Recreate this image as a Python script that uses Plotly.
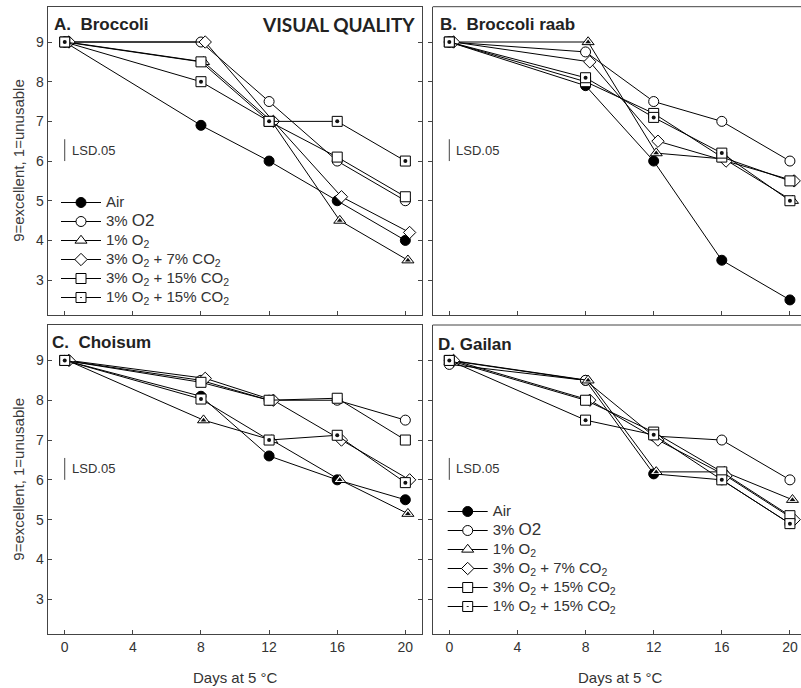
import plotly.graph_objects as go

# ---------------- data ----------------
days = [0, 8, 12, 16, 20]

LEG_SPAN = "<span style='font-size:15px'>{}</span>"
series_names = [
    LEG_SPAN.format("Air"),
    LEG_SPAN.format("3% <span style='font-size:17px'>O2</span>"),
    LEG_SPAN.format("1% O<sub>2</sub>"),
    LEG_SPAN.format("3% O<sub>2</sub> + 7% CO<sub>2</sub>"),
    LEG_SPAN.format("3% O<sub>2</sub> + 15% CO<sub>2</sub>"),
    LEG_SPAN.format("1% O<sub>2</sub> + 15% CO<sub>2</sub>"),
]

# A. Broccoli
broccoli_air = [9.0, 6.9, 6.0, 5.0, 4.0]
broccoli_o3 = [9.0, 9.0, 7.5, 6.0, 5.0]
broccoli_o1 = [9.0, 8.5, 7.0, 4.5, 3.5]
broccoli_o3c7 = [9.0, 9.0, 7.0, 5.1, 4.2]
broccoli_o3c15 = [9.0, 8.5, 7.0, 6.1, 5.1]
broccoli_o1c15 = [9.0, 8.0, 7.0, 7.0, 6.0]

# B. Broccoli raab
raab_air = [9.0, 7.9, 6.0, 3.5, 2.5]
raab_o3 = [9.0, 8.75, 7.5, 7.0, 6.0]
raab_o1 = [9.0, 9.0, 6.2, 6.05, 5.0]
raab_o3c7 = [9.0, 8.5, 6.5, 6.0, 5.5]
raab_o3c15 = [9.0, 8.0, 7.2, 6.1, 5.5]
raab_o1c15 = [9.0, 8.1, 7.1, 6.2, 5.0]

# C. Choisum
choisum_air = [9.0, 8.1, 6.6, 6.0, 5.5]
choisum_o3 = [9.0, 8.5, 8.0, 8.0, 7.5]
choisum_o1 = [9.0, 7.5, 7.0, 6.0, 5.15]
choisum_o3c7 = [9.0, 8.55, 8.0, 7.0, 6.0]
choisum_o3c15 = [9.0, 8.45, 8.0, 8.05, 7.0]
choisum_o1c15 = [9.0, 8.03, 7.0, 7.12, 5.93]

# D. Gailan
gailan_air = [9.0, 8.5, 6.15, 6.0, 4.9]
gailan_o3 = [8.9, 8.5, 7.1, 7.0, 6.0]
gailan_o1 = [9.0, 8.5, 6.2, 6.2, 5.5]
gailan_o3c7 = [9.0, 8.0, 7.0, 6.1, 5.0]
gailan_o3c15 = [9.0, 8.0, 7.2, 6.2, 5.1]
gailan_o1c15 = [9.0, 7.5, 7.13, 6.0, 4.9]

# small horizontal offsets of some series (as plotted in the original)
x_offsets = [0.0, 0.0, 0.15, 0.25, 0.0, 0.0]

lsd05 = 0.55  # length of LSD.05 bar (starting at 6)

panel_titles = ["A.  Broccoli", "B.  Broccoli raab", "C.  Choisum", "D. Gailan"]
x_ticks = [0, 4, 8, 12, 16, 20]
y_ticks = [3, 4, 5, 6, 7, 8, 9]

# ---------------- styles ----------------
W, H = 801, 688
FONT = "Liberation Sans, Arial, sans-serif"
AX = "#444444"
TXT = "#333333"

marker_styles = [
    dict(symbol="circle", size=10, color="black"),
    dict(symbol="circle", size=10, color="white"),
    dict(symbol="triangle-up", size=10.5, color="white"),
    dict(symbol="diamond", size=9.5, color="white"),
    dict(symbol="square", size=10, color="white"),
    dict(symbol="square-dot", size=10, color="white"),
]
# dark centre drawn inside some open markers
inner_dots = {2: dict(symbol="triangle-up", size=5), 5: dict(symbol="circle", size=4)}

panels = [
    [broccoli_air, broccoli_o3, broccoli_o1, broccoli_o3c7, broccoli_o3c15, broccoli_o1c15],
    [raab_air, raab_o3, raab_o1, raab_o3c7, raab_o3c15, raab_o1c15],
    [choisum_air, choisum_o3, choisum_o1, choisum_o3c7, choisum_o3c15, choisum_o1c15],
    [gailan_air, gailan_o3, gailan_o1, gailan_o3c7, gailan_o3c15, gailan_o1c15],
]

def px_x(p):
    return min(1.0, max(0.0, p / W))

def px_y(p):
    return min(1.0, max(0.0, (H - p) / H))

dom_x_left = [px_x(47.7), px_x(421.7)]
dom_x_right = [px_x(432.7), 1.0]
dom_y_top = [px_y(315.0), px_y(6.7)]
dom_y_bot = [px_y(634.3), px_y(325.0)]

range_x_left = [-1.0, 20.96]
range_x_right = [-0.975, 20.65]
range_y = [2.12, 9.89]

fig = go.Figure()

axis_ids = ["", "2", "3", "4"]
legend_for_panel = {0: "legend", 3: "legend2"}

for pi, series in enumerate(panels):
    aid = axis_ids[pi]
    for si, vals in enumerate(series):
        ms = marker_styles[si]
        xs = [d + x_offsets[si] for d in days]
        fig.add_trace(go.Scatter(
            x=xs, y=vals,
            mode="lines+markers",
            name=series_names[si],
            line=dict(color="black", width=1),
            marker=dict(symbol=ms["symbol"], size=ms["size"], color=ms["color"],
                        line=dict(color="black", width=1)),
            xaxis="x" + aid, yaxis="y" + aid,
            showlegend=pi in legend_for_panel,
            legend=legend_for_panel.get(pi, "legend"),
            hoverinfo="skip",
        ))
        if si in inner_dots:
            dd = inner_dots[si]
            fig.add_trace(go.Scatter(
                x=xs, y=vals, mode="markers",
                marker=dict(symbol=dd["symbol"], size=dd["size"], color="#111111",
                            line=dict(width=0)),
                xaxis="x" + aid, yaxis="y" + aid,
                showlegend=False, hoverinfo="skip",
            ))

layout_axes = {}
for pi in range(4):
    aid = axis_ids[pi]
    left = pi in (0, 2)
    top = pi in (0, 1)
    xname = "xaxis" + aid
    yname = "yaxis" + aid
    layout_axes[xname] = dict(
        domain=dom_x_left if left else dom_x_right,
        range=range_x_left if left else range_x_right,
        anchor="y" + aid,
        tickvals=x_ticks,
        ticks="inside", ticklen=4, tickcolor=AX, tickwidth=1,
        showticklabels=not top,
        tickfont=dict(family=FONT, size=14, color=TXT),
        showline=True, linecolor=AX, linewidth=1, mirror=True if left else False,
        showgrid=False, zeroline=False,
    )
    layout_axes[yname] = dict(
        domain=dom_y_top if top else dom_y_bot,
        range=range_y,
        anchor="x" + aid,
        tickvals=y_ticks,
        ticks="inside" if left else "outside", ticklen=4, tickcolor=AX, tickwidth=1,
        showticklabels=left,
        tickfont=dict(family=FONT, size=14, color=TXT),
        showline=True, linecolor=AX, linewidth=1,
        mirror="ticks" if left else False,
        showgrid=False, zeroline=False,
    )

fig.update_layout(**layout_axes)

shapes = []
annotations = []
# top frame line of the right-hand panels (their right side is cut by the page edge)
for dom_y in (dom_y_top, dom_y_bot):
    shapes.append(dict(type="line", xref="paper", yref="paper",
                       x0=dom_x_right[0], x1=1.0, y0=dom_y[1], y1=dom_y[1],
                       line=dict(color=AX, width=1)))

for pi in range(4):
    aid = axis_ids[pi]
    shapes.append(dict(type="line", xref="x" + aid, yref="y" + aid,
                       x0=0, x1=0, y0=6.0, y1=6.0 + lsd05,
                       line=dict(color=AX, width=1)))
    annotations.append(dict(xref="x" + aid, yref="y" + aid, x=0, y=6.0 + lsd05 / 2,
                            xshift=5, text="LSD.05", showarrow=False,
                            xanchor="left", yanchor="middle",
                            font=dict(family=FONT, size=13, color=TXT)))

title_pos = [(52, 25), (438, 25), (50, 342), (436, 344)]
for pi, (tx, ty) in enumerate(title_pos):
    annotations.append(dict(xref="paper", yref="paper", x=px_x(tx), y=px_y(ty),
                            text="<b>" + panel_titles[pi] + "</b>", showarrow=False,
                            xanchor="left", yanchor="middle",
                            font=dict(family=FONT, size=17, color="#222222")))

annotations.append(dict(xref="paper", yref="paper", x=px_x(417), y=px_y(25),
                        text="<b>VISUAL QUALITY</b>", showarrow=False,
                        xanchor="right", yanchor="middle",
                        font=dict(family="Lato, Liberation Sans, sans-serif", size=19,
                                  color="#222222")))

for cy in ((6.7 + 315) / 2, (325 + 634.3) / 2):
    annotations.append(dict(xref="paper", yref="paper", x=px_x(19), y=px_y(cy),
                            text="9=excellent, 1=unusable", showarrow=False,
                            textangle=-90, xanchor="center", yanchor="middle",
                            font=dict(family=FONT, size=15, color="#3a3a3a")))

for cx in (235, 620):
    annotations.append(dict(xref="paper", yref="paper", x=px_x(cx), y=px_y(677),
                            text="Days at 5 °C", showarrow=False,
                            xanchor="center", yanchor="middle",
                            font=dict(family=FONT, size=15, color=TXT)))

legend_common = dict(
    bgcolor="rgba(0,0,0,0)", borderwidth=0,
    font=dict(family=FONT, size=12.3, color=TXT),
    xanchor="left", yanchor="top", itemwidth=40,
    tracegroupgap=0,
)

fig.update_layout(
    width=W, height=H, autosize=False,
    margin=dict(l=0, r=0, t=0, b=0, pad=0),
    paper_bgcolor="white", plot_bgcolor="white",
    shapes=shapes, annotations=annotations,
    legend=dict(x=px_x(56), y=px_y(188), **legend_common),
    legend2=dict(x=px_x(442.7), y=px_y(497), **legend_common),
)

fig.write_html(
    "out.html",
    config={"displayModeBar": False},
    post_script="document.body.style.margin='0px';document.body.style.overflow='hidden';",
)
